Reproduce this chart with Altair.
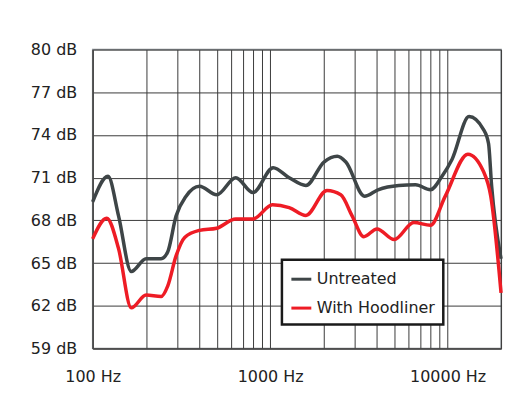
import altair as alt
import pandas as pd

# Untreated series
untreated_freq = [100, 122, 140, 165, 200, 243, 265, 295, 336, 400, 500, 640, 800, 1040, 1280,
                  1590, 2010, 2390, 2670, 3400, 4050, 5300, 6600, 8000, 9300, 10600, 13200, 15900,
                  17000, 17700, 20000]
untreated_db = [69.3, 71.1, 68.3, 64.4, 65.3, 65.3, 65.8, 68.3, 69.7, 70.4, 69.8, 71.0, 69.95, 71.7, 71.0,
                70.45, 72.1, 72.5, 72.1, 69.7, 70.15, 70.45, 70.5, 70.15, 71.1, 72.3, 75.3, 74.4,
                73.4, 70.4, 65.3]

# With Hoodliner series
hood_freq = [100, 120, 140, 165, 200, 243, 265, 295, 330, 400, 500, 640, 800, 1030, 1280, 1590,
             2090, 2500, 2900, 3370, 4000, 5000, 6450, 8000, 9700, 13000, 15900, 17500, 20000]
hood_db = [66.7, 68.15, 66.0, 61.85, 62.75, 62.65, 63.4, 65.5, 66.8, 67.3, 67.45, 68.1, 68.1, 69.1, 68.9, 68.35,
           70.1, 69.8, 68.3, 66.85, 67.4, 66.65, 67.85, 67.65, 69.7, 72.65, 71.45, 69.7, 62.9]

series_names = ["Untreated", "With Hoodliner"]
series_colors = ["#3e4547", "#ee1c25"]

x_grid = [100, 200, 300, 400, 500, 600, 700, 800, 900,
          1000, 2000, 3000, 4000, 5000, 6000, 7000, 8000, 9000,
          10000, 20000]
y_ticks = [59, 62, 65, 68, 71, 74, 77, 80]

df = pd.concat([
    pd.DataFrame({"freq": untreated_freq, "db": untreated_db, "series": series_names[0], "order": range(len(untreated_freq))}),
    pd.DataFrame({"freq": hood_freq, "db": hood_db, "series": series_names[1], "order": range(len(hood_freq))}),
])

FONT = "DejaVu Sans"

chart = alt.Chart(df).mark_line(strokeWidth=3.5, interpolate="monotone").encode(
    x=alt.X("freq:Q",
            scale=alt.Scale(type="log", domain=[100, 20000], nice=False),
            axis=alt.Axis(values=x_grid, title=None, grid=True, ticks=False,
                          labelExpr="(datum.value == 100 || datum.value == 1000 || datum.value == 10000) ? datum.value + ' Hz' : ''",
                          labelOverlap=False, labelFlush=False, labelPadding=20,
                          labelFontSize=16, labelFont=FONT, labelColor="#222",
                          gridColor="#3a3a3a", gridWidth=1, gridOpacity=1,
                          domainColor="#4a4a4a", domainWidth=1.5)),
    y=alt.Y("db:Q",
            scale=alt.Scale(domain=[59, 80], zero=False, nice=False),
            axis=alt.Axis(values=y_ticks, title=None, grid=True, ticks=False,
                          labelExpr="datum.value + ' dB'",
                          labelPadding=16, labelFontSize=16, labelFont=FONT, labelColor="#222",
                          labelBaseline="middle",
                          gridColor="#3a3a3a", gridWidth=1, gridOpacity=1,
                          domainColor="#4a4a4a", domainWidth=1.5)),
    color=alt.Color("series:N",
                    scale=alt.Scale(domain=series_names, range=series_colors),
                    legend=alt.Legend(orient="none", legendX=190, legendY=211, title=None,
                                      strokeColor="#1a1a1a", fillColor="white", padding=8,
                                      symbolType="stroke", symbolSize=400, symbolStrokeWidth=3,
                                      labelFontSize=16, labelFont=FONT, labelColor="#222",
                                      labelOffset=4, rowPadding=9)),
    order="order:Q",
).properties(
    width=410, height=300,
    autosize=alt.AutoSizeParams(type="none"),
    padding={"left": 85, "top": 41, "right": 15, "bottom": 50},
    background="white",
).configure_view(stroke="#8a9095", strokeWidth=1.5
).configure_legend(strokeWidth=2.5)

chart.save("out.html", embed_options={"renderer": "svg", "actions": False})
